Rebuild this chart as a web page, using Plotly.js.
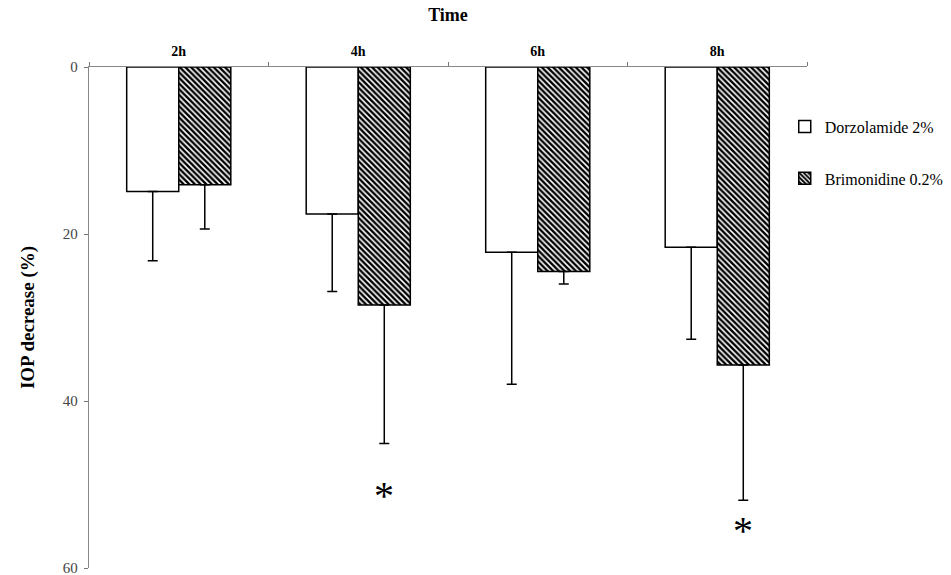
<!DOCTYPE html>
<html>
<head>
<meta charset="utf-8">
<script src="https://cdn.plot.ly/plotly-3.0.1.min.js"></script>
<style>html,body{margin:0;padding:0;background:#fff;}#chart{width:951px;height:575px;}</style>
</head>
<body>
<div id="chart"></div>
<script>
const categories = ['2h', '4h', '6h', '8h'];
const dorzolamide = [14.9, 17.6, 22.2, 21.6];
const dorzolamideErr = [8.3, 9.3, 15.8, 11.0];
const brimonidine = [14.1, 28.5, 24.5, 35.7];
const brimonidineErr = [5.3, 16.6, 1.5, 16.2];
const sigCategories = ['4h', '8h'];
const sigY = [50.4, 54.6];
const yTicks = [0, 20, 40, 60];

const W = 951, H = 575;
const margin = {l: 89, r: 144, t: 67, b: 7, autoexpand: false};
const bargap = 0.42;
const plotW = W - margin.l - margin.r;
const barShift = plotW / categories.length * (1 - bargap) / 4;

const serif = 'Liberation Serif';

const traces = [
  {
    type: 'bar', name: 'Dorzolamide 2%', x: categories, y: dorzolamide,
    marker: {color: '#ffffff', line: {color: '#000000', width: 1.5}},
    error_y: {type: 'data', symmetric: false, array: dorzolamideErr, arrayminus: dorzolamide.map(() => 0), color: '#000000', thickness: 1.5, width: 5},
    legendgroup: 'a'
  },
  {
    type: 'bar', name: 'Brimonidine 0.2%', x: categories, y: brimonidine,
    marker: {color: '#ffffff', line: {color: '#000000', width: 1.5},
      pattern: {shape: '\\', fgcolor: '#000000', bgcolor: '#ffffff', size: 4, solidity: 0.6}},
    error_y: {type: 'data', symmetric: false, array: brimonidineErr, arrayminus: brimonidine.map(() => 0), color: '#000000', thickness: 1.5, width: 5},
    legendgroup: 'b'
  }
];

const annotations = sigCategories.map((c, i) => ({
  x: c, y: sigY[i], xref: 'x', yref: 'y', text: '*', showarrow: false,
  xshift: barShift, yshift: -8, yanchor: 'middle',
  font: {family: serif, size: 40, color: '#000000'}
}));

const layout = {
  width: W, height: H, margin: margin,
  paper_bgcolor: '#ffffff', plot_bgcolor: '#ffffff',
  barmode: 'group', bargap: bargap, bargroupgap: 0,
  font: {family: serif, color: '#000000'},
  showlegend: true,
  legend: {x: 0.969, xanchor: 'left', y: 0.915, yanchor: 'top', font: {family: serif, size: 16, color: '#000000'},
    tracegroupgap: 28, itemwidth: 30, bgcolor: 'rgba(0,0,0,0)'},
  xaxis: {
    type: 'category', side: 'top', tickson: 'boundaries', ticks: 'outside', ticklen: 4,
    tickcolor: '#777777', showline: true, linecolor: '#888888', linewidth: 1.2, showgrid: false,
    ticklabelstandoff: 4,
    tickfont: {family: serif, size: 14, weight: 'bold', color: '#000000'},
    title: {text: 'Time', font: {family: serif, size: 18, weight: 'bold', color: '#000000'}, standoff: 18}
  },
  yaxis: {
    range: [60, 0], tickvals: yTicks, ticks: 'outside', ticklen: 4, tickcolor: '#777777',
    showline: true, linecolor: '#888888', linewidth: 1.2, showgrid: false, zeroline: false,
    ticklabelstandoff: 3, ticklabeloverflow: 'allow',
    tickfont: {family: serif, size: 15, color: '#444444'},
    title: {text: 'IOP decrease (%)', font: {family: serif, size: 19, weight: 'bold', color: '#000000'}, standoff: 23}
  },
  annotations: annotations
};

Plotly.newPlot('chart', traces, layout, {displayModeBar: false, staticPlot: true});
</script>
</body>
</html>
